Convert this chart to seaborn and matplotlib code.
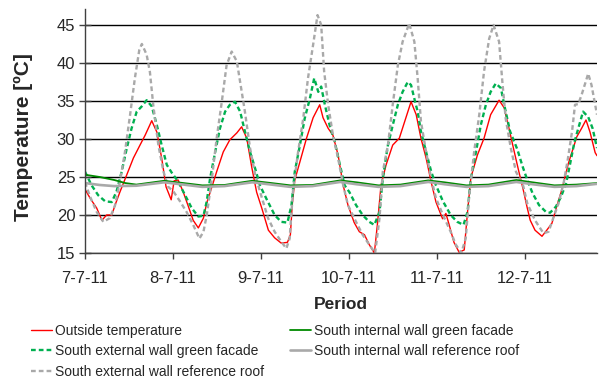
import matplotlib
matplotlib.use("Agg")
import matplotlib.pyplot as plt
import seaborn as sns
import pandas as pd

# ---------------- data (hours since 7-7-11 00:00, temperature in degC) ----------------
outside_h = [0, 1.4, 3.2, 4.6, 5.9, 7.3, 8.2, 9.5, 11.4, 13.2, 15.0, 16.4, 18.2, 19.6, 20.9, 22.1,
             23.5, 24.3, 25.4, 26.8, 28.2, 29.5, 30.9, 32.3, 33.2, 34.6, 35.9, 37.7, 39.5, 41.4, 42.7,
             44.1, 45.5, 46.8, 48.2, 50.0, 51.7, 53.5, 55.2, 56.0, 56.5, 57.2, 58.6, 60.4, 62.2, 64.0,
             64.9, 66.3, 67.6, 69.0, 70.4, 71.7, 73.4, 74.8, 76.2, 77.5, 78.9, 79.8, 80.7, 82.1, 83.9,
             85.7, 87.1, 88.9, 90.3, 91.6, 93.0, 94.4, 95.7, 97.5, 98.4, 99.3, 100.6, 102.0, 103.4,
             104.3, 105.2, 107.0, 108.8, 110.6, 112.9, 114.3, 115.6, 117.0, 118.2, 119.5, 120.5, 121.4,
             122.7, 124.6, 125.9, 127.3, 128.6, 130.0, 131.8, 134.1, 135.4, 136.6, 137.7, 139.1, 139.6]
outside_t = [23.4, 22.2, 20.9, 19.3, 20.0, 20.0, 21.3, 23.0, 25.3, 27.5, 29.2, 30.5, 32.4, 30.9, 27.5, 23.7,
             22.0, 24.5, 24.6, 23.0, 21.1, 19.3, 18.3, 19.6, 21.6, 23.7, 25.7, 28.3, 29.9, 30.8, 31.6,
             30.1, 26.2, 23.0, 20.9, 18.0, 17.0, 16.3, 16.4, 17.4, 21.3, 24.6, 27.0, 30.1, 32.8, 34.5,
             32.8, 31.4, 30.5, 27.9, 23.9, 21.3, 19.0, 17.8, 17.4, 16.1, 15.0, 19.1, 23.9, 26.6, 29.2,
             30.1, 32.2, 34.9, 33.2, 30.1, 27.5, 24.3, 21.7, 19.5, 20.2, 18.7, 16.4, 15.1, 15.4,
             20.4, 24.9, 27.9, 30.1, 33.2, 35.1, 34.1, 31.4, 28.4, 25.9, 23.3, 21.1, 19.3,
             18.0, 17.2, 18.0, 18.9, 21.1, 23.3, 26.8, 30.3, 31.4, 32.5, 30.9, 28.2, 27.8]

ext_green_h = [0, 1.8, 3.6, 5.5, 7.3, 8.6, 10.0, 11.4, 12.7, 14.1, 15.5, 16.8, 18.2, 19.6, 20.9, 22.3,
               23.6, 25.4, 27.3, 29.1, 30.9, 32.3, 33.2, 34.1, 35.5, 36.8, 38.2, 39.5, 40.9, 42.3,
               43.6, 45.0, 46.4, 47.7, 49.6, 51.7, 53.5, 55.2, 56.3, 57.2, 58.6, 59.9, 61.3, 62.5,
               63.6, 64.4, 65.4, 66.7, 68.1, 69.5, 70.8, 72.1, 73.9, 75.7, 77.5, 78.9, 80.3, 81.2,
               82.6, 83.9, 85.3, 86.6, 88.0, 88.9, 89.8, 90.7, 91.6, 93.0, 94.4, 95.7, 97.6, 99.7,
               101.5, 103.2, 104.3, 105.2, 106.6, 107.9, 109.3, 110.6, 112.0, 113.4, 114.3, 115.9,
               117.9, 119.3, 120.6, 122.0, 123.8, 125.7, 126.8, 128.4, 129.8, 131.2, 132.3, 133.4,
               134.5, 135.8, 137.2, 138.4, 139.6]
ext_green_t = [25.7, 23.9, 22.6, 21.8, 21.7, 23.1, 25.7, 28.8, 31.4, 33.6, 34.3, 35.1, 34.3, 31.8, 29.2, 26.6,
               25.6, 24.4, 22.6, 20.9, 19.8, 19.9, 21.8, 24.8, 28.3, 31.4, 33.6, 34.5, 34.9, 33.6,
               31.0, 28.3, 26.1, 23.9, 22.0, 20.0, 19.1, 19.0, 21.3, 25.7, 29.2, 32.7, 35.3, 38.0,
               36.2, 36.9, 34.5, 31.8, 29.6, 26.6, 23.9, 23.0, 21.3, 20.0, 19.1, 18.7, 20.4, 24.8,
               29.2, 31.8, 34.5, 36.2, 37.5, 37.1, 35.3, 33.6, 31.0, 28.3, 25.7, 23.9, 21.8, 20.0,
               19.1, 18.7, 20.4, 24.8, 28.3, 31.8, 34.5, 36.2, 37.3, 36.7, 34.5, 31.0,
               28.6, 26.4, 24.6, 22.9, 21.3, 20.4, 20.3, 21.1, 22.4, 24.2, 26.8, 29.5,
               31.4, 33.6, 32.9, 31.4, 28.8]

ext_ref_h = [0, 1.4, 3.2, 5.0, 6.8, 8.2, 9.5, 10.9, 12.3, 13.6, 14.8, 15.5, 16.8, 17.7, 18.6, 20.0,
             21.4, 22.7, 24.1, 25.9, 27.7, 29.5, 31.2, 32.3, 33.2, 34.6, 35.9, 37.3, 38.6, 40.0,
             41.4, 42.3, 43.6, 45.0, 46.4, 47.7, 49.9, 51.7, 53.5, 54.9, 55.8, 56.7, 58.1, 59.5,
             60.8, 62.2, 63.4, 64.4, 65.2, 66.3, 67.6, 69.0, 70.4, 71.7, 73.9, 75.7, 77.5, 79.1,
             80.3, 81.2, 82.6, 83.9, 85.3, 86.6, 88.4, 89.8, 90.7, 91.6, 93.0, 94.4, 95.7, 97.6,
             99.7, 101.1, 102.6, 103.8, 104.7, 106.1, 107.5, 108.8, 110.2, 111.4, 112.9, 113.8,
             114.7, 116.1, 117.5, 119.5, 120.6, 122.7, 125.0, 126.4, 127.6, 129.1, 130.5, 131.6,
             132.8, 133.6, 134.5, 135.4, 136.5, 137.2, 138.1, 139.6]
ext_ref_t = [24.3, 22.4, 20.4, 19.1, 19.6, 21.3, 24.3, 28.3, 33.2, 38.0, 41.7, 42.5, 41.1, 38.8, 34.5, 29.2,
             25.7, 23.7, 23.1, 21.8, 20.4, 18.7, 16.9, 17.8, 20.0, 24.8, 30.1, 34.9, 39.7, 41.5,
             40.2, 37.5, 33.6, 28.8, 25.3, 23.1, 19.6, 17.8, 16.5, 15.6, 16.9, 23.1, 28.3, 32.7,
             38.0, 42.4, 46.3, 45.0, 38.9, 34.5, 30.5, 27.5, 23.9, 21.3, 19.1, 17.4, 16.1, 15.0,
             19.6, 25.7, 29.2, 34.5, 39.7, 42.8, 45.2, 42.8, 38.0, 32.3, 28.3, 24.8, 22.2, 20.0,
             17.8, 16.1, 15.0, 16.9, 22.2, 28.3, 33.2, 38.9, 43.2, 45.0, 42.8, 37.5,
             32.7, 28.8, 25.7, 23.8, 21.5, 19.3, 17.6, 17.8, 19.5, 21.5, 24.2, 27.2,
             31.0, 34.5, 34.6, 35.8, 37.5, 38.6, 37.1, 33.2]

int_green_h = [0, 4, 8, 11, 14, 21.6, 26, 32, 38, 45.6, 50, 56, 62, 69.6, 74, 80, 86, 93.6, 98,
               104, 110, 117.6, 122, 128, 134, 139.6]
int_green_t = [25.3, 25.0, 24.6, 24.2, 24.0, 24.5, 24.25, 23.9, 23.95, 24.5, 24.25, 23.9, 23.95,
               24.55, 24.3, 23.9, 24.0, 24.55, 24.3, 23.9, 24.0, 24.6, 24.3, 23.9, 24.0, 24.2]

int_ref_h = [0, 4, 8, 14, 21.6, 26, 32, 38, 45.6, 50, 56, 62, 69.6, 74, 80, 86, 93.6, 98, 104,
             110, 117.6, 122, 128, 134, 139.6]
int_ref_t = [24.2, 23.95, 23.8, 23.85, 24.3, 24.05, 23.7, 23.8, 24.3, 24.05, 23.7, 23.8, 24.35,
             24.05, 23.7, 23.8, 24.35, 24.05, 23.7, 23.8, 24.35, 24.05, 23.7, 23.8, 24.1]

tick_hours = [0, 24, 48, 72, 96, 120]
tick_labels = ["7-7-11", "8-7-11", "9-7-11", "10-7-11", "11-7-11", "12-7-11"]
y_ticks = [15, 20, 25, 30, 35, 40, 45]

# ---------------- plotting ----------------
sns.set_theme(style="white")
plt.rcParams["font.family"] = ["Liberation Sans", "DejaVu Sans"]

fig = plt.figure(figsize=(6.03, 3.77), dpi=100)
ax = fig.add_axes([85 / 603, 1 - 253 / 377, 512 / 603, 244 / 377])

series = [
    ("Outside temperature", outside_h, outside_t, "#ff0000", 1.0, "-"),
    ("South external wall green facade", ext_green_h, ext_green_t, "#00b050", 1.7, (0, (2.0, 1.3))),
    ("South external wall reference roof", ext_ref_h, ext_ref_t, "#a9a9a9", 1.7, (0, (2.0, 1.3))),
    ("South internal wall green facade", int_green_h, int_green_t, "#008a00", 1.3, "-"),
    ("South internal wall reference roof", int_ref_h, int_ref_t, "#a9a9a9", 1.9, "-"),
]

for name, hh, tt, col, lw, ls in series:
    df = pd.DataFrame({"hour": hh, "temp": tt})
    sns.lineplot(data=df, x="hour", y="temp", ax=ax, color=col, linewidth=lw,
                 linestyle=ls, label=name, legend=False)

ax.set_xlim(0, 139.6)
ax.set_ylim(15, 47.1)
ax.set_yticks(y_ticks)
ax.set_xticks(tick_hours)
ax.set_xticklabels(tick_labels)
ax.yaxis.grid(True, color="black", linewidth=1.0)
ax.xaxis.grid(False)
ax.set_axisbelow(True)

for s in ["top", "right"]:
    ax.spines[s].set_visible(False)
for s in ["left", "bottom"]:
    ax.spines[s].set_color("#404040")
    ax.spines[s].set_linewidth(1.0)

ax.tick_params(axis="x", direction="out", length=4, width=1, color="#404040",
               labelsize=12, pad=9, bottom=True)
ax.tick_params(axis="y", direction="inout", length=8, width=1, color="#404040",
               labelsize=12, pad=3, left=True)

ax.set_xlabel("Period", fontsize=12.5, fontweight="bold", labelpad=8)
ax.set_ylabel("Temperature [ºC]", fontsize=15, fontweight="bold")
ax.yaxis.set_label_coords(-0.102, 0.475)

handles, labels = ax.get_legend_handles_labels()
fig.legend(handles, labels,
           loc="upper left", bbox_to_anchor=(31 / 603, 1 - 324 / 377), ncol=2,
           frameon=False, fontsize=10, handlelength=1.5, handletextpad=0.2,
           columnspacing=1.9, labelspacing=0.45, borderpad=0, borderaxespad=0)

fig.savefig("out.png", dpi=100)
